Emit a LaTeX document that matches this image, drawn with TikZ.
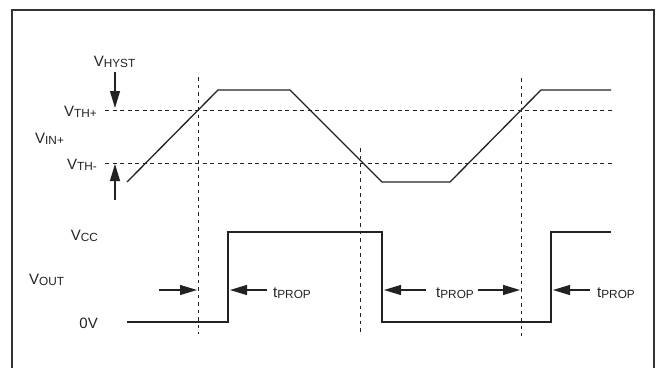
\documentclass[tikz,border=0pt]{standalone}
\usepackage{fontspec}
\setmainfont{Liberation Sans}
\usetikzlibrary{arrows.meta}
\newcommand{\mainsz}{\fontsize{15}{15}\selectfont}
\newcommand{\lbl}[2]{{\mainsz #1\raisebox{-1.2pt}{\fontsize{11.8}{11.8}\selectfont #2}}}
\definecolor{ink}{HTML}{222222}
\tikzset{
  wave/.style={draw=ink, line width=1.3pt, line join=miter},
  guide/.style={draw=ink, line width=0.8pt, dash pattern=on 4pt off 3.5pt},
  vguide/.style={draw=ink, line width=0.8pt, dash pattern=on 3.5pt off 4pt},
  dimarrow/.style={draw=ink, line width=1.2pt, -{Triangle[length=17pt,width=10pt]}},
  txt/.style={inner sep=0pt, text=ink, font=\mainsz},
  frame/.style={draw=black!80, line width=2pt}
}
\begin{document}
\begin{tikzpicture}[x=1pt,y=-1pt]
\useasboundingbox (0,0) rectangle (656,367);
\draw[frame] (12,372) -- (12,10) -- (654,10) -- (654,372);

% guide lines
\coordinate (thpL) at (105,110); \coordinate (thpR) at (613,110);
\coordinate (thmL) at (105,163); \coordinate (thmR) at (613,163);
\draw[guide] (thpL) -- (thpR);
\draw[guide] (thmL) -- (thmR);
\coordinate (v1t) at (198,77);  \coordinate (v1b) at (198,334);
\coordinate (v2t) at (360,148); \coordinate (v2b) at (360,335);
\coordinate (v3t) at (521,78);  \coordinate (v3b) at (521,336);
\draw[vguide] (v1t) -- (v1b);
\draw[vguide] (v2t) -- (v2b);
\draw[vguide] (v3t) -- (v3b);

% input waveform
\coordinate (i0) at (127,182);
\coordinate (i1) at (218,90);
\coordinate (i2) at (290,90);
\coordinate (i3) at (382,182);
\coordinate (i4) at (450,182);
\coordinate (i5) at (541,90);
\coordinate (i6) at (611,90);
\draw[wave] (i0) -- (i1) -- (i2) -- (i3) -- (i4) -- (i5) -- (i6);

% output waveform
\coordinate (o0) at (127,322);
\coordinate (o1) at (228,322);
\coordinate (o2) at (228,232);
\coordinate (o3) at (382,232);
\coordinate (o4) at (382,322);
\coordinate (o5) at (551,322);
\coordinate (o6) at (551,232);
\coordinate (o7) at (611,232);
\draw[wave] (o0) -- (o1) -- (o2) -- (o3) -- (o4) -- (o5) -- (o6) -- (o7);

% labels
\node[txt, anchor=base] (vhyst) at (114.5,66.5) {\lbl{V}{HYST}};
\node[txt, anchor=base east] (vthp) at (97,116.5) {\lbl{V}{TH+}};
\node[txt, anchor=base west] (vin) at (35,143) {\lbl{V}{IN+}};
\node[txt, anchor=base east] (vthm) at (97,169.5) {\lbl{V}{TH-}};
\node[txt, anchor=base east] (vcc) at (98,240) {\lbl{V}{CC}};
\node[txt, anchor=base west] (vout) at (29,284) {\lbl{V}{OUT}};
\node[txt, anchor=base east] (zero) at (98,328) {0V};

% hysteresis arrows
\coordinate (h1s) at (115,72);  \coordinate (h1e) at (115,108);
\coordinate (h2s) at (115,200); \coordinate (h2e) at (115,164);
\draw[dimarrow] (h1s) -- (h1e);
\draw[dimarrow] (h2s) -- (h2e);

% propagation delays
\coordinate (p1s) at (159,290); \coordinate (p1e) at (197,290);
\draw[dimarrow] (p1s) -- (p1e);
\coordinate (p2s) at (267,290); \coordinate (p2e) at (230,290);
\draw[dimarrow] (p2s) -- (p2e);
\node[txt, anchor=base west] (tp1) at (273,297.5) {\lbl{t}{PROP}};

\coordinate (p3s) at (426,290); \coordinate (p3e) at (384,290);
\draw[dimarrow] (p3s) -- (p3e);
\node[txt, anchor=base west] (tp2) at (436,297.5) {\lbl{t}{PROP}};
\coordinate (p4s) at (478,290); \coordinate (p4e) at (520,290);
\draw[dimarrow] (p4s) -- (p4e);

\coordinate (p5s) at (590,290); \coordinate (p5e) at (553,290);
\draw[dimarrow] (p5s) -- (p5e);
\node[txt, anchor=base west] (tp3) at (597,297.5) {\lbl{t}{PROP}};
\end{tikzpicture}
\end{document}
